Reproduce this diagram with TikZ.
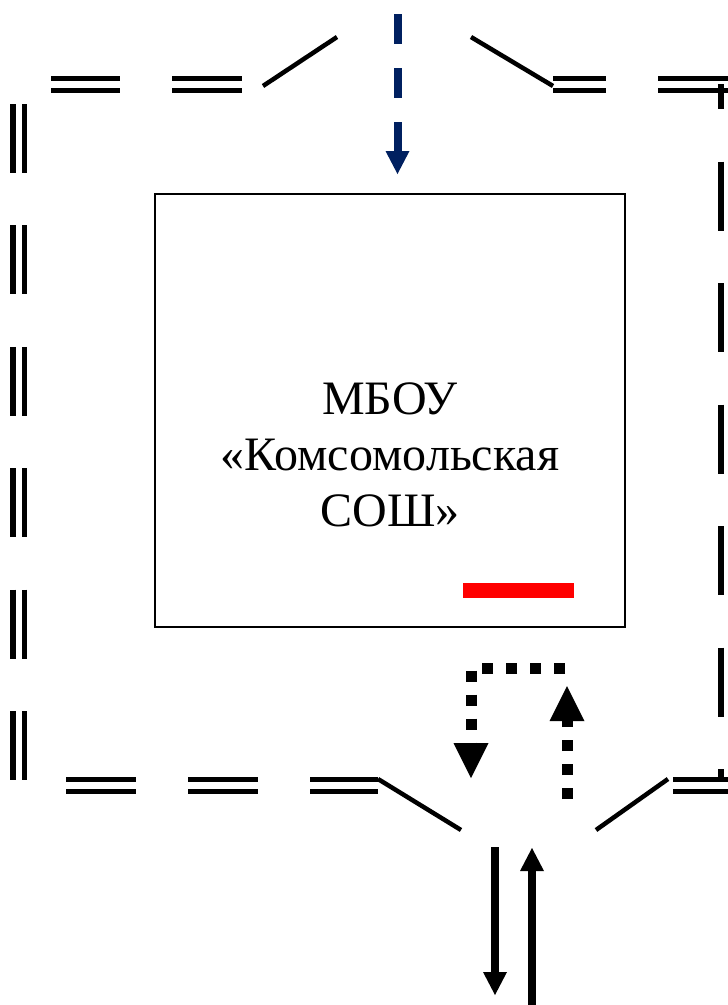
\documentclass[tikz,border=0pt]{standalone}
\usepackage{fontspec}
\setmainfont{Liberation Serif}
\usetikzlibrary{arrows.meta}
\definecolor{navy}{RGB}{0,32,96}
\definecolor{mark}{RGB}{255,0,0}
\begin{document}
\begin{tikzpicture}[x=1pt,y=-1pt,
  fence/.style={line width=5pt},
  slant/.style={line width=4.5pt},
  leftwall/.style={line width=5.5pt, dash pattern=on 69pt off 52.4pt},
  rightwall/.style={line width=5.5pt, dash pattern=on 69pt off 52.5pt, dash phase=44pt},
  schoolbox/.style={draw, line width=1.8pt, minimum width=470pt, minimum height=433pt, inner sep=0pt},
  schoolname/.style={font=\fontsize{48pt}{56.2pt}\selectfont, align=center, inner sep=0pt},
  navyarrow/.style={draw=navy, line width=8pt, dash pattern=on 29.5pt off 24.5pt,
    -{Triangle[width=24pt,length=23pt,line width=0pt,fill=navy]}},
  dotarrow/.style={line width=11pt, dash pattern=on 11pt off 13pt,
    -{Triangle[width=35pt,length=35pt,line width=0pt]}},
  solidarrow/.style={line width=8pt, -{Triangle[width=24pt,length=23pt,line width=0pt]}},
  redmark/.style={draw=mark, line width=15pt}
]
\fill[white] (0,0) rectangle (728,1005);
\useasboundingbox (0,0) rectangle (728,1005);

% top fence
\foreach \y in {78,90} {
  \draw[fence] (51,\y) -- (120,\y);
  \draw[fence] (172,\y) -- (242,\y);
  \draw[fence] (553,\y) -- (606,\y);
  \draw[fence] (658,\y) -- (728,\y);
}
\draw[slant] (263,86) -- (337,37);
\draw[slant] (471,37) -- (553,86);

% bottom fence
\foreach \y in {779,791} {
  \draw[fence] (66,\y) -- (136,\y);
  \draw[fence] (188,\y) -- (258,\y);
  \draw[fence] (310,\y) -- (378,\y);
  \draw[fence] (673,\y) -- (728,\y);
}
\draw[slant] (378,779) -- (461,830);
\draw[slant] (596,830) -- (668,779);

% left wall (double)
\draw[leftwall] (13,104) -- (13,780);
\draw[leftwall] (24.5,104) -- (24.5,780);

% right wall
\draw[rightwall] (721,84) -- (721,781);

% school
\node[schoolbox] (school) at (390,410.5) {};
\node[schoolname] (name) at (390,455) {МБОУ\\«Комсомольская\\СОШ»};
\coordinate (r0) at (463,590);
\coordinate (r1) at (574,590);
\draw[redmark] (r0) -- (r1);

% entrance arrow
\coordinate (b0) at (397.5,14);
\coordinate (b1) at (397.5,174);
\draw[navyarrow] (b0) -- (b1);

% dotted arrows
\coordinate (d0) at (565,668.5);
\coordinate (d1) at (471,668.5);
\coordinate (d2) at (471,778);
\coordinate (d3) at (567,799);
\coordinate (d4) at (567,686);
\draw[dotarrow] (d0) -- (d1) -- (d2);
\draw[dotarrow] (d3) -- (d4);

% road arrows
\coordinate (s0) at (495,847);
\coordinate (s1) at (495,995);
\coordinate (s2) at (532,1005);
\coordinate (s3) at (532,848);
\draw[solidarrow] (s0) -- (s1);
\draw[solidarrow] (s2) -- (s3);
\end{tikzpicture}
\end{document}
